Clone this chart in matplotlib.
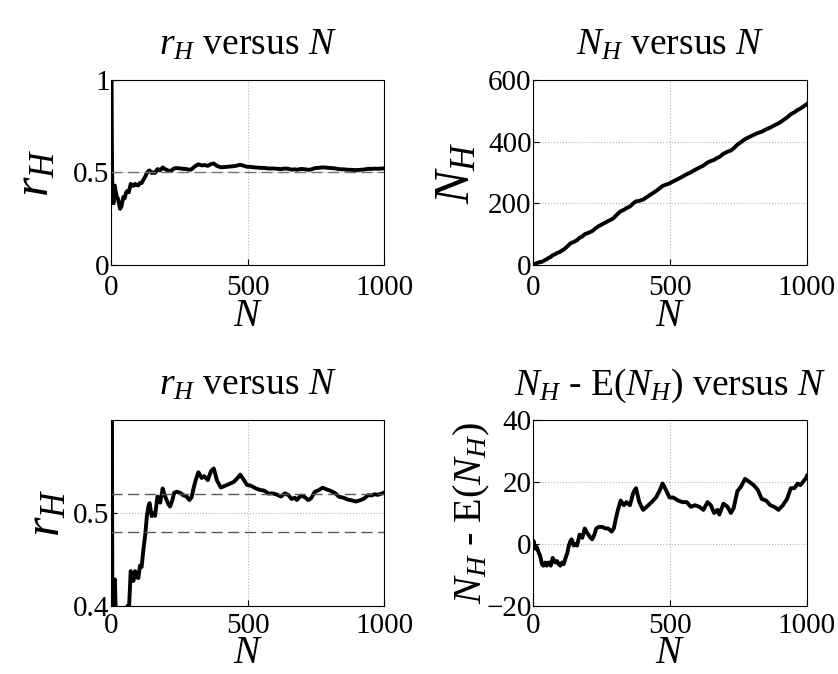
import numpy as np
import matplotlib as mpl
mpl.use('Agg')
import matplotlib.pyplot as plt

mpl.rcParams['font.family'] = ['Liberation Serif', 'DejaVu Serif']
mpl.rcParams['mathtext.fontset'] = 'custom'
mpl.rcParams['mathtext.rm'] = 'Liberation Serif'
mpl.rcParams['mathtext.it'] = 'Liberation Serif:italic'

# number of tosses N and deviation N_H - E(N_H)
n_flips = [1, 2, 3, 4, 5, 6, 7, 8, 9, 10, 12, 14, 16, 18, 20, 22, 25, 28, 33, 38,
           45, 50, 55, 60, 65, 72, 78, 82, 88, 94, 100, 106, 112, 119, 125, 131,
           137, 141, 149, 155, 161, 170, 177, 180, 189, 195, 202, 210, 216, 224,
           231, 240, 253, 265, 275, 287, 295, 302, 310, 320, 332, 341, 354, 366,
           376, 388, 402, 415, 433, 449, 461, 473, 485, 498, 512, 530, 546, 561,
           576, 591, 607, 622, 637, 649, 661, 673, 680, 695, 710, 722, 732, 746,
           759, 774, 790, 805, 820, 835, 851, 866, 880, 896, 912, 927, 941, 954,
           966, 976, 985, 998, 1000]
nh_dev = [0.5, 1, 0.5, 0, -0.5, -1, -0.5, -1, -1.5, -1, -1, -1, -1.5, -2, -2.5,
          -3, -3.5, -4.5, -6.5, -7, -6, -7, -6, -6, -7, -4.5, -5.5, -6, -5.5,
          -6.5, -7, -6, -6.5, -4.5, -3, -0.5, 1, 1.5, -0.5, 0, -0.5, 3, 2.5, 2,
          5, 4, 3, 2, 1.5, 3, 5, 5.5, 5.5, 5, 5, 4, 5, 8, 11, 14, 12.5, 13.5,
          12.5, 16.5, 18, 13.5, 11, 12, 13.5, 15, 17, 19.5, 17.5, 15, 15, 14,
          13.5, 13.5, 12, 12.5, 12, 11, 13.5, 12.5, 10, 11, 9.5, 13, 12, 10,
          11.5, 17, 18.5, 21, 20, 19, 17.5, 14.5, 14, 12.5, 12, 11, 12.5, 14.5,
          18, 18, 19.5, 19, 20, 21.5, 22]

n = np.array(n_flips, dtype=float)
dev = np.array(nh_dev, dtype=float)
nh = n / 2 + dev
rh = nh / n

fig = plt.figure(figsize=(8.38, 6.74), dpi=100)
ax1 = fig.add_axes([0.1325, 0.607, 0.326, 0.2745])
ax2 = fig.add_axes([0.636, 0.607, 0.327, 0.2745])
ax3 = fig.add_axes([0.1325, 0.1009, 0.326, 0.276])
ax4 = fig.add_axes([0.636, 0.1009, 0.327, 0.276])

tfs = 27
lfs = 30
kfs = 21

def style(ax, yticks, ylim, tpad, xpad):
    ax.set_xlim(0, 1000)
    ax.set_ylim(ylim)
    ax.set_xticks([0, 500, 1000])
    ax.set_yticks(yticks)
    ax.grid(True, linestyle=':', color='0.7', linewidth=0.8)
    ax.tick_params(direction='in', labelsize=kfs, length=4, pad=1)
    ax.tick_params(axis='x', pad=tpad)
    ax.set_xlabel(r'$N$', fontsize=lfs - 2, labelpad=xpad)
    for s in ax.spines.values():
        s.set_linewidth(0.8)

ax1.plot(n, rh, color='k', lw=2.8)
ax1.axhline(0.5, color='0.45', lw=1, ls=(0, (8, 4)))
style(ax1, [0, 0.5, 1], (0, 1), 7, -2)
ax1.set_yticklabels(['0', '0.5', '1'])
ax1.set_ylabel(r'$r_H$', fontsize=lfs + 6, labelpad=10)
ax1.set_title(r'$r_H$ versus $N$', fontsize=tfs, pad=18)

ax2.plot(n, nh, color='k', lw=2.8)
style(ax2, [0, 200, 400, 600], (0, 600), 7, -2)
ax2.set_ylabel(r'$N_H$', fontsize=lfs + 6, labelpad=6)
ax2.set_title(r'$N_H$ versus $N$', fontsize=tfs, pad=18)

ax3.plot(n, rh, color='k', lw=2.8)
ax3.axhline(0.52, color='0.35', lw=1, ls=(0, (8, 4)))
ax3.axhline(0.48, color='0.35', lw=1, ls=(0, (8, 4)))
style(ax3, [0.4, 0.5], (0.4, 0.6), 5, -3)
ax3.set_yticklabels(['0.4', '0.5'])
ax3.set_ylabel(r'$r_H$', fontsize=lfs + 6, labelpad=2)
ax3.set_title(r'$r_H$ versus $N$', fontsize=tfs, pad=18)

ax4.plot(n, dev, color='k', lw=2.8)
style(ax4, [-20, 0, 20, 40], (-20, 40), 5, -3)
ax4.set_ylabel(r'$N_H$ - E($N_H$)', fontsize=lfs - 1, labelpad=-4)
ax4.set_title(r'$N_H$ - E($N_H$) versus $N$', fontsize=tfs, pad=18)

plt.savefig('out.png', dpi=100)
